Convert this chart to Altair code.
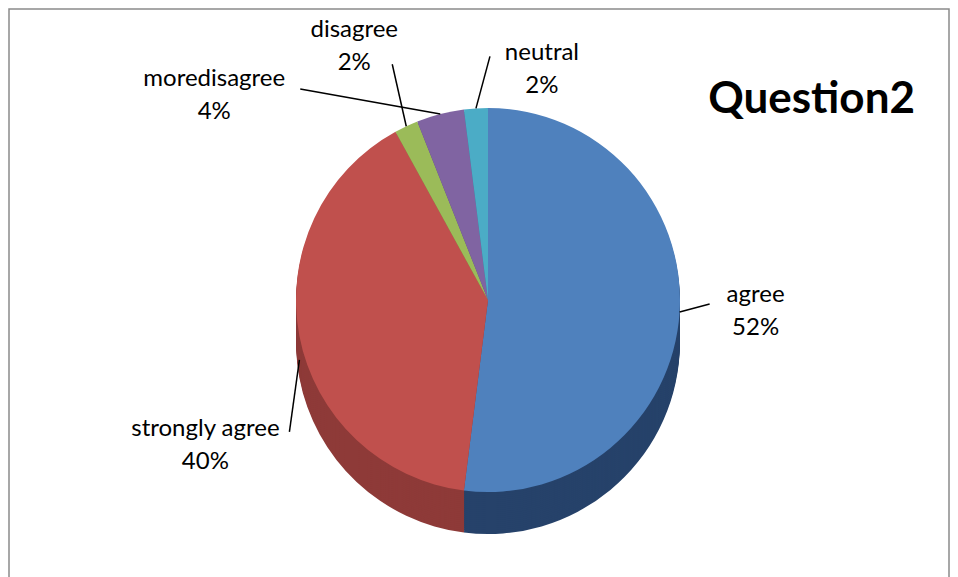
import altair as alt
import pandas as pd

# ---- data ----
categories = ["agree", "strongly agree", "disagree", "moredisagree", "neutral"]
values = [52, 40, 2, 4, 2]
pct_labels = ["52%", "40%", "2%", "4%", "2%"]
title_text = "Question2"

top_colors = ["#4F81BD", "#C0504D", "#9BBB59", "#8064A2", "#4BACC6"]
side_colors = ["#26426A", "#8E3A38", "#6E8A3C", "#5A4678", "#327F93"]

df = pd.DataFrame({"name": categories, "value": values, "pct": pct_labels,
                   "order": list(range(len(categories)))})

# ---- layout (plot-area pixel coordinates) ----
W, H = 940, 580
CX, CY = 479, 291      # centre of the top face
R = 192                # radius
DEPTH = 42             # thickness of the "3D" side
FONT = "Lato"

base = (
    alt.Chart(df)
    .transform_window(cum="sum(value)", sort=[alt.SortField("order")], frame=[None, 0])
    .transform_joinaggregate(total="sum(value)")
    .transform_calculate(
        t0="(datum.cum - datum.value) / datum.total * 2 * PI",
        t1="datum.cum / datum.total * 2 * PI",
    )
    .transform_calculate(tm="(datum.t0 + datum.t1) / 2")
    .transform_calculate(
        ex=f"{CX} + {R} * sin(datum.tm)",
        ey=f"{CY} - {R} * cos(datum.tm)",
        lab="datum.name + '\\n' + datum.pct",
    )
)

theta = alt.Theta("t0:Q", scale=None)
theta2 = alt.Theta2("t1:Q")

# side of the pie: stacked darker copies shifted downward
side_layers = [
    base.mark_arc(radius=R).encode(
        theta=theta, theta2=theta2,
        fill=alt.Fill("name:N", scale=alt.Scale(domain=categories, range=side_colors), legend=None),
        x=alt.value(CX), y=alt.value(CY + d),
    )
    for d in range(DEPTH, 0, -2)
]

top = base.mark_arc(radius=R).encode(
    theta=theta, theta2=theta2,
    color=alt.Color("name:N", scale=alt.Scale(domain=categories, range=top_colors), legend=None),
    x=alt.value(CX), y=alt.value(CY),
)

# label layout: start shift on slice edge, leader vector, text offset from leader end
label_layout = {
    "agree":          dict(sdy=0,  ldx=30,   ldy=-8,  tdx=46,  tdy=-21),
    "strongly agree": dict(sdy=24, ldx=-10,  ldy=72,  tdx=-84, tdy=-15),
    "moredisagree":   dict(sdy=0,  ldx=-140, ldy=-25, tdx=-86, tdy=-22),
    "disagree":       dict(sdy=0,  ldx=-14,  ldy=-62, tdx=-38, tdy=-46),
    "neutral":        dict(sdy=0,  ldx=14,   ldy=-52, tdx=52,  tdy=-15),
}

label_layers = []
for name, L in label_layout.items():
    b = base.transform_filter(alt.datum.name == name).transform_calculate(
        sx="datum.ex", sy=f"datum.ey + {L['sdy']}",
    ).transform_calculate(
        lx=f"datum.sx + {L['ldx']}", ly=f"datum.sy + {L['ldy']}",
    ).transform_calculate(
        tx=f"datum.lx + {L['tdx']}", ty=f"datum.ly + {L['tdy']}",
    )
    rule = b.mark_rule(color="black", strokeWidth=1.5).encode(
        x=alt.X("sx:Q", scale=None), y=alt.Y("sy:Q", scale=None),
        x2="lx:Q", y2="ly:Q",
    )
    text = b.mark_text(
        align="center", baseline="top", lineBreak="\n", lineHeight=33,
        fontSize=24, font=FONT, color="black",
    ).encode(x=alt.X("tx:Q", scale=None), y=alt.Y("ty:Q", scale=None), text="lab:N")
    label_layers += [rule, text]

title = alt.Chart(pd.DataFrame({"t": [title_text]})).mark_text(
    align="right", baseline="middle", fontSize=44, font=FONT, fontWeight="bold", color="black",
).encode(text="t:N", x=alt.value(906), y=alt.value(91))

chart = (
    alt.layer(*side_layers, top, *label_layers, title)
    .properties(width=W, height=H, padding={"left": 9, "top": 9, "right": 9, "bottom": 0},
                autosize=alt.AutoSizeParams(type="none"), background="white")
    .configure_view(stroke="#8a8a8a", strokeWidth=1.5)
)

chart.save("out.html", embed_options={"renderer": "svg", "actions": False})
